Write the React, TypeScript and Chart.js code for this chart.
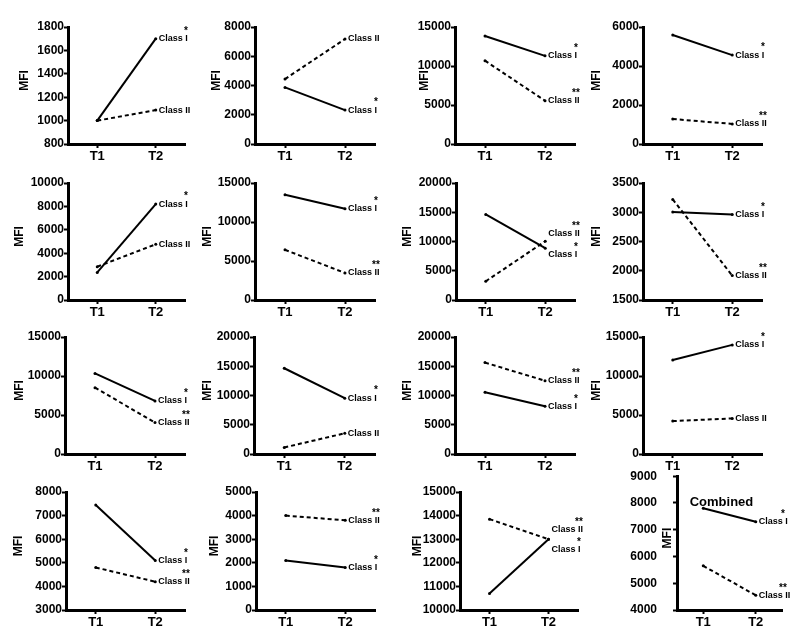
import React, { useEffect, useRef } from "react";
import { Chart, registerables } from "chart.js";
Chart.register(...registerables);

// ---------- data ----------
const timepoints = ["T1", "T2"];
const classIValues: number[][] = [
  [1000, 1700], [3870, 2320], [13850, 11300], [5590, 4560],
  [2360, 8200], [13500, 11700], [14630, 8860], [3003, 2963],
  [10330, 6800], [14660, 9550], [10560, 8150], [12040, 13990],
  [7450, 5100], [2100, 1800], [10700, 13000], [7800, 7300],
];
const classIIValues: number[][] = [
  [1000, 1090], [4440, 7180], [10680, 5550], [1280, 1030],
  [2850, 4760], [6430, 3470], [3200, 10050], [3220, 1917],
  [8500, 4040], [1120, 3540], [15620, 12530], [4220, 4560],
  [4800, 4200], [4000, 3800], [13850, 13000], [5650, 4550],
];
const yMin = [800, 0, 0, 0, 0, 0, 0, 1500, 0, 0, 0, 0, 3000, 0, 10000, 4000];
const yMax = [1800, 8000, 15000, 6000, 10000, 15000, 20000, 3500, 15000, 20000, 20000, 15000, 8000, 5000, 15000, 9000];
const yStep = [200, 2000, 5000, 2000, 2000, 5000, 5000, 500, 5000, 5000, 5000, 5000, 1000, 1000, 1000, 1000];
const starsI = ["*", "*", "*", "*", "*", "*", "*", "*", "*", "*", "*", "*", "*", "*", "*", "*"];
const starsII = ["", "", "**", "**", "", "**", "**", "**", "**", "", "**", "", "**", "**", "**", "**"];
// where the series name is written (value units); null = at the T2 value
const labelAtI: (number | null)[] = [null, null, null, null, null, null, 7750, null, null, null, null, null, null, null, 12550, null];
const labelAtII: (number | null)[] = [null, null, null, null, null, null, 11300, null, null, null, null, null, null, null, 13400, null];
const panelTitles = ["", "", "", "", "", "", "", "", "", "", "", "", "", "", "", "Combined"];
const seriesNames = ["Class I", "Class II"];
const axisTitle = "MFI";

// ---------- layout (pixels) ----------
type Frame = { axisX: number; endX: number; topY: number; botY: number; mfiX: number; tickPad: number };
const frames: Frame[] = [
  { axisX: 68, endX: 185, topY: 27, botY: 144, mfiX: 25, tickPad: 0 },
  { axisX: 255, endX: 375, topY: 27, botY: 144, mfiX: 217, tickPad: 0 },
  { axisX: 455, endX: 575, topY: 27, botY: 144, mfiX: 425, tickPad: 0 },
  { axisX: 643, endX: 762, topY: 27, botY: 144, mfiX: 597, tickPad: 0 },
  { axisX: 68, endX: 185, topY: 183, botY: 300, mfiX: 20, tickPad: 0 },
  { axisX: 255, endX: 375, topY: 183, botY: 300, mfiX: 208, tickPad: 0 },
  { axisX: 456, endX: 575, topY: 183, botY: 300, mfiX: 408, tickPad: 0 },
  { axisX: 643, endX: 762, topY: 183, botY: 300, mfiX: 597, tickPad: 0 },
  { axisX: 65, endX: 185, topY: 337, botY: 454, mfiX: 20, tickPad: 0 },
  { axisX: 254, endX: 375, topY: 337, botY: 454, mfiX: 208, tickPad: 0 },
  { axisX: 455, endX: 575, topY: 337, botY: 454, mfiX: 408, tickPad: 0 },
  { axisX: 643, endX: 762, topY: 337, botY: 454, mfiX: 597, tickPad: 0 },
  { axisX: 66, endX: 185, topY: 492, botY: 610, mfiX: 19, tickPad: 0 },
  { axisX: 256, endX: 375, topY: 492, botY: 610, mfiX: 215, tickPad: 0 },
  { axisX: 460, endX: 578, topY: 492, botY: 610, mfiX: 418, tickPad: 0 },
  { axisX: 677, endX: 782, topY: 467, botY: 610, mfiX: 668, tickPad: 16 },
];

const FONT = "Arial, 'Liberation Sans', sans-serif";
const LEFT_SPACE = 72;

const annotPlugin = {
  id: "annot",
  afterDraw(chart: any, _args: any, opts: any) {
    const i: number = opts.index;
    const f = frames[i];
    const { ctx, chartArea, scales } = chart;
    const x2 = scales.x.getPixelForValue(1);
    ctx.save();
    ctx.fillStyle = "#000";
    const items = [
      { v: labelAtI[i] ?? classIValues[i][1], name: seriesNames[0], star: starsI[i] },
      { v: labelAtII[i] ?? classIIValues[i][1], name: seriesNames[1], star: starsII[i] },
    ];
    for (const it of items) {
      const y = scales.y.getPixelForValue(it.v);
      ctx.font = `bold 9px ${FONT}`;
      ctx.textAlign = "left";
      ctx.textBaseline = "middle";
      ctx.fillText(it.name, x2 + 3, y);
      if (it.star) {
        ctx.font = `bold 10px ${FONT}`;
        ctx.textAlign = "center";
        ctx.fillText(it.star, chartArea.right + 1, y - 7.5);
      }
    }
    if (panelTitles[i]) {
      ctx.font = `bold 13px ${FONT}`;
      ctx.textAlign = "center";
      ctx.textBaseline = "middle";
      ctx.fillText(panelTitles[i], (chartArea.left + chartArea.right) / 2 - 8, chartArea.top + 26);
    }
    // axis title
    const mx = f.mfiX - (f.axisX - LEFT_SPACE);
    const my = (chartArea.top + chartArea.bottom) / 2 - 5;
    ctx.translate(mx, my);
    ctx.rotate(-Math.PI / 2);
    ctx.font = `bold 12px ${FONT}`;
    ctx.textAlign = "center";
    ctx.textBaseline = "middle";
    ctx.fillText(axisTitle, 0, 0);
    ctx.restore();
  },
};

function Panel({ index }: { index: number }) {
  const ref = useRef<HTMLCanvasElement | null>(null);
  const f = frames[index];
  const left = f.axisX - LEFT_SPACE;
  const top = f.topY - 14;
  const width = f.endX + 40 - left;
  const height = f.botY + 28 - top;
  useEffect(() => {
    if (!ref.current) return;
    const chart = new Chart(ref.current, {
      type: "line",
      data: {
        labels: timepoints,
        datasets: [
          {
            label: seriesNames[0],
            data: classIValues[index],
            borderColor: "#000",
            backgroundColor: "#000",
            borderWidth: 2,
            pointRadius: 1.5,
            pointBorderWidth: 0,
            tension: 0,
            clip: false as any,
          },
          {
            label: seriesNames[1],
            data: classIIValues[index],
            borderColor: "#000",
            backgroundColor: "#000",
            borderWidth: 2,
            borderDash: [4, 3],
            pointRadius: 1.5,
            pointBorderWidth: 0,
            tension: 0,
            clip: false as any,
          },
        ],
      },
      options: {
        responsive: false,
        animation: false,
        events: [],
        layout: {
          padding: { left: 0, top: f.topY - top, right: left + width - f.endX, bottom: height - (f.botY - top) - 22 },
        },
        plugins: {
          legend: { display: false },
          tooltip: { enabled: false },
          annot: { index },
        } as any,
        scales: {
          x: {
            type: "category",
            offset: true,
            grid: { drawOnChartArea: false, drawTicks: true, tickLength: 4, tickWidth: 2, color: "#000" },
            border: { display: true, width: 3, color: "#000" },
            ticks: { color: "#000", font: { family: FONT, size: 13, weight: "bold" }, padding: 1, maxRotation: 0 },
            afterFit: (s: any) => { s.height = 22; },
          },
          y: {
            type: "linear",
            min: yMin[index],
            max: yMax[index],
            grid: { drawOnChartArea: false, drawTicks: true, tickLength: 4, tickWidth: 2, color: "#000" },
            border: { display: true, width: 3, color: "#000" },
            ticks: {
              stepSize: yStep[index],
              color: "#000",
              font: { family: FONT, size: 12, weight: "bold" },
              padding: f.tickPad,
              callback: (v: any) => String(v),
            },
            afterFit: (s: any) => { s.width = LEFT_SPACE; },
          },
        },
      } as any,
      plugins: [annotPlugin],
    });
    return () => chart.destroy();
  }, [index]);
  return (
    <canvas
      ref={ref}
      width={width}
      height={height}
      style={{ position: "absolute", left, top, width, height }}
    />
  );
}

export default function App() {
  return (
    <div style={{ position: "absolute", left: 0, top: 0, width: 800, height: 642, background: "#fff", overflow: "hidden" }}>
      {frames.map((_, i) => (
        <Panel key={i} index={i} />
      ))}
    </div>
  );
}
